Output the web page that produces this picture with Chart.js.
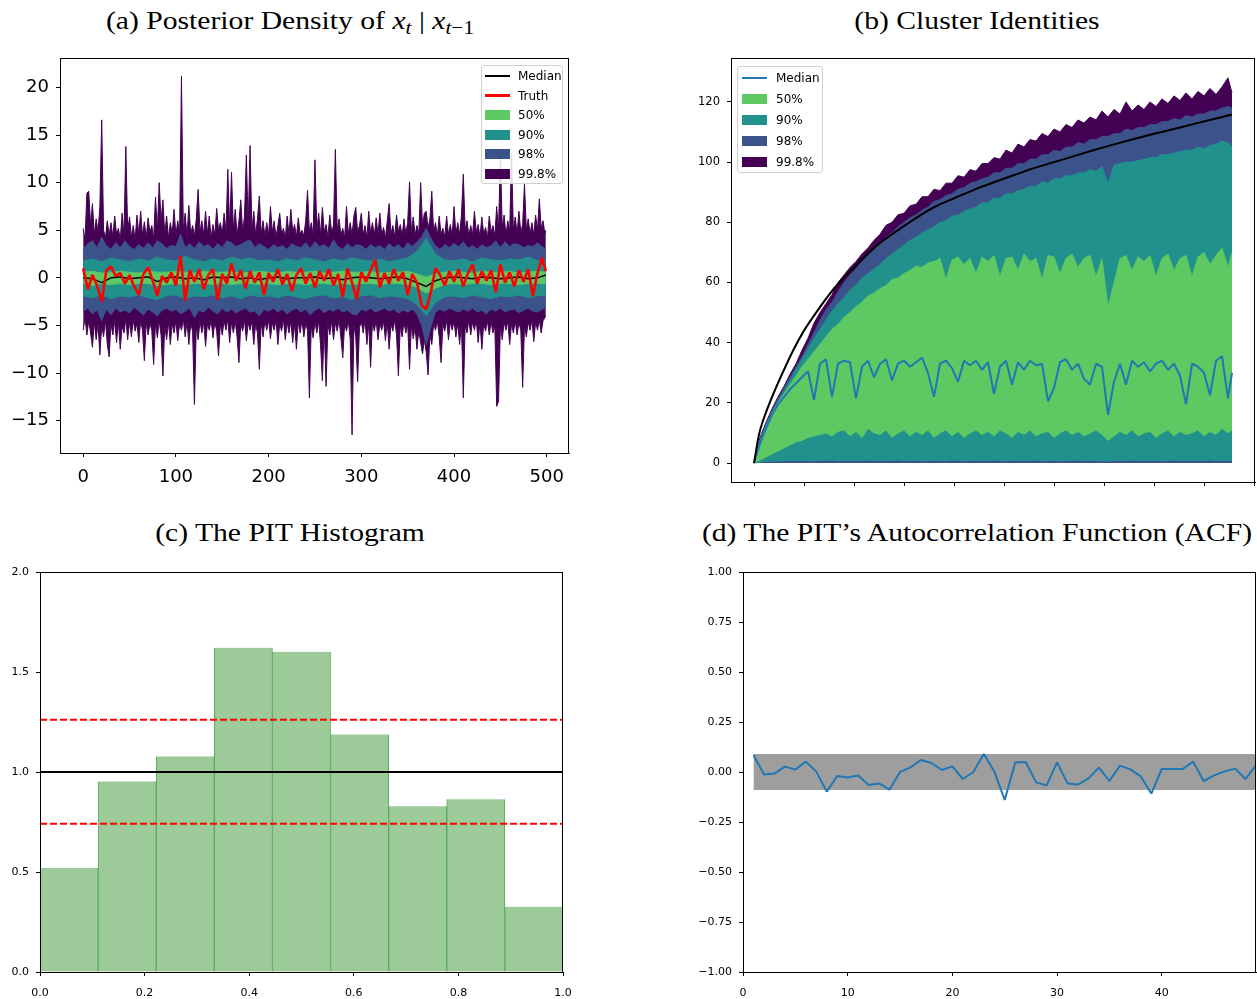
<!DOCTYPE html>
<html>
<head>
<meta charset="utf-8">
<script src="https://cdn.jsdelivr.net/npm/chart.js@4.4.1/dist/chart.umd.min.js"></script>
<style>
  body { margin: 0; background: #fff; width: 1257px; height: 999px; position: relative; overflow: hidden; font-family: 'DejaVu Sans', sans-serif; }
  canvas { position: absolute; }
  .title { position: absolute; font-family: 'Liberation Serif', serif; font-size: 26px; line-height: 26px; color: #000; white-space: nowrap; transform: translateX(-50%) scaleX(1.14); }
  .title sub { font-size: 0.72em; vertical-align: -0.28em; line-height: 0; }
  .legend { position: absolute; background: rgba(255,255,255,0.85); border: 1px solid #d0d0d0; border-radius: 3px; font-size: 12px; color: #000; box-sizing: border-box; }
  .legend .row { position: absolute; left: 0; height: 16px; line-height: 16px; width: 100%; }
  .legend .line { position: absolute; height: 2px; top: 7px; }
  .legend .patch { position: absolute; height: 10px; top: 3px; }
  .legend .txt { position: absolute; top: 0; }
</style>
</head>
<body>

<div class="title" style="left:290px; top:8px;">(a) Posterior Density of <i>x</i><sub><i>t</i></sub> | <i>x</i><sub><i>t</i>−1</sub></div>
<div class="title" style="left:977px; top:8px;">(b) Cluster Identities</div>
<div class="title" style="left:290px; top:520px;">(c) The PIT Histogram</div>
<div class="title" style="left:977px; top:520px;">(d) The PIT’s Autocorrelation Function (ACF)</div>

<canvas id="chartA" width="600" height="460" style="left:0; top:40px;"></canvas>
<canvas id="chartB" width="597" height="460" style="left:660px; top:40px;"></canvas>
<canvas id="chartC" width="600" height="444" style="left:0; top:555px;"></canvas>
<canvas id="chartD" width="567" height="444" style="left:690px; top:555px;"></canvas>

<div class="legend" id="legA" style="left:481px; top:65px; width:82px; height:119px;"></div>
<div class="legend" id="legB" style="left:737px; top:66px; width:86px; height:107px;"></div>

<script>
// ---- panel (a): posterior density ----
const A_T2 = grid(0, 498, 2, 499);   // 99.8% band
const A_T5 = grid(0, 495, 5, 499);   // 98% band and truth
const A_T10 = grid(0, 490, 10, 499); // 90% / 50% bands and median

const A_P998_UP = [
  5.2,4.0,8.9,9.1,5.5,7.8,4.5,6.2,4.8,7.5,16.6,5.0,4.2,6.0,4.5,5.8,4.3,6.5,4.6,5.2,4.0,6.8,4.5,13.8,5.0,
  6.4,4.3,5.5,4.0,6.6,4.6,7.0,4.4,5.9,4.2,6.3,4.8,5.5,4.1,8.5,5.0,10.0,6.0,8.2,4.5,6.5,4.2,5.8,4.6,7.2,
  4.5,6.0,4.8,21.2,5.0,6.8,4.3,7.6,4.6,5.5,4.4,6.2,9.3,4.8,6.0,4.5,7.0,4.6,6.5,4.2,5.6,4.5,7.3,5.0,5.8,
  4.6,6.8,4.8,11.4,5.2,11.1,5.0,7.2,4.5,6.0,8.2,4.8,6.5,12.9,5.5,13.9,5.0,7.0,4.5,6.2,8.6,4.6,6.0,4.4,5.8,
  4.5,7.5,4.8,6.0,4.3,5.5,6.8,4.6,5.2,4.2,6.5,4.5,7.2,4.8,5.6,4.3,6.3,4.6,5.0,4.4,6.0,9.2,4.8,5.8,4.5,
  12.4,5.0,6.8,4.5,7.4,4.8,5.6,4.3,6.6,4.8,5.5,13.5,5.0,6.2,4.5,5.2,4.2,7.5,4.6,5.8,4.5,6.5,7.4,4.8,5.5,
  6.8,4.5,5.5,4.2,7.0,4.7,5.8,4.4,6.3,4.6,6.8,4.5,5.3,4.2,6.0,7.8,4.6,5.5,4.3,6.6,4.8,5.6,4.4,6.2,4.6,
  5.8,10.1,4.8,6.4,4.5,5.5,4.6,10.0,5.5,6.8,7.0,5.2,6.2,9.1,4.8,5.8,4.4,6.5,4.6,5.2,4.3,6.5,4.5,5.6,4.4,
  7.5,4.6,5.8,4.5,6.6,10.9,5.0,6.0,4.4,5.5,4.5,7.0,4.8,5.6,4.3,6.4,4.6,5.3,4.2,6.5,4.8,5.5,4.4,7.5,5.0,
  13.0,5.2,6.6,4.5,6.0,4.8,13.1,5.0,6.4,4.6,7.0,4.8,5.6,9.9,5.0,6.2,4.6,5.8,4.5,6.6,5.0,8.3,5.2,6.0,4.6,
  5.0];
const A_P998_LO = [
  -5.5,-4.2,-6.0,-4.5,-5.8,-7.3,-4.6,-6.5,-4.8,-8.1,-5.0,-6.2,-4.4,-7.0,-8.3,-4.8,-6.0,-4.5,-6.8,-4.6,-7.5,-5.0,-5.8,-4.3,-6.5,
  -4.6,-6.2,-4.4,-5.6,-4.8,-6.8,-4.5,-5.5,-8.7,-4.6,-6.0,-4.8,-5.5,-9.1,-4.7,-6.3,-4.5,-6.0,-10.3,-5.0,-6.5,-4.6,-7.0,-4.8,-5.8,
  -4.5,-6.6,-4.8,-5.5,-4.3,-6.2,-4.6,-7.0,-4.8,-5.6,-13.3,-5.0,-6.5,-4.5,-5.8,-4.6,-7.2,-4.8,-5.5,-4.4,-6.3,-4.6,-5.6,-8.2,-4.8,
  -6.0,-4.5,-5.5,-4.3,-6.8,-4.6,-5.8,-4.5,-6.2,-8.9,-4.8,-5.6,-4.4,-6.6,-4.7,-5.5,-4.5,-7.0,-4.8,-5.8,-9.6,-4.6,-6.2,-4.5,-5.5,
  -4.4,-6.4,-4.7,-5.5,-4.4,-7.0,-4.8,-5.6,-4.3,-6.5,-4.6,-5.8,-4.5,-6.8,-4.8,-7.5,-4.6,-5.8,-4.4,-6.2,-4.8,-5.5,-12.6,-5.0,-6.3,
  -4.6,-5.8,-4.5,-7.0,-10.8,-5.0,-11.4,-4.8,-6.0,-4.5,-6.5,-4.7,-5.6,-4.4,-6.3,-8.4,-4.8,-5.6,-4.5,-6.4,-16.5,-5.0,-6.2,-10.9,-5.2,
  -4.6,-5.8,-4.4,-7.0,-4.8,-9.4,-4.6,-5.6,-4.4,-6.5,-4.8,-5.5,-4.5,-6.6,-4.6,-7.5,-4.8,-5.6,-4.4,-6.0,-10.3,-5.0,-6.2,-4.6,-5.8,
  -4.8,-9.6,-5.0,-6.4,-5.2,-7.5,-5.5,-6.8,-8.0,-6.5,-7.8,-10.2,-6.0,-7.0,-4.8,-5.5,-4.5,-6.2,-8.9,-4.8,-5.6,-4.4,-6.5,-4.6,-5.5,
  -4.5,-6.2,-4.7,-7.0,-4.8,-12.6,-5.0,-5.8,-4.4,-6.0,-4.6,-5.5,-4.4,-6.8,-4.7,-7.5,-4.8,-5.6,-4.5,-6.0,-4.6,-5.8,-5.0,-13.5,-13.0,
  -5.0,-6.5,-4.6,-5.5,-4.5,-7.0,-4.8,-5.8,-4.5,-6.0,-4.7,-5.5,-11.5,-5.0,-6.2,-4.6,-5.5,-4.4,-6.7,-4.6,-5.5,-4.4,-5.8,-4.5,-4.2,
  -4.0];
const A_P98_UP = [3.0,3.6,3.9,3.2,4.3,3.4,3.0,3.7,3.2,3.9,
  3.3,3.0,3.5,3.1,3.7,3.2,3.9,3.6,3.1,3.4,
  3.3,4.6,3.2,3.6,3.1,3.8,3.3,3.5,3.0,3.6,
  3.2,3.9,3.7,3.3,3.5,3.8,4.0,3.2,3.6,3.3,
  3.0,3.5,3.2,3.4,3.0,3.6,3.3,3.2,3.7,3.1,
  3.8,3.3,3.5,3.1,4.0,3.3,3.0,3.6,3.2,3.5,
  3.4,3.0,3.5,3.2,3.4,3.0,3.6,3.2,3.5,3.0,
  3.7,3.3,3.8,4.3,5.2,4.2,3.4,3.0,3.5,3.2,
  3.6,3.3,3.8,3.1,3.4,3.0,3.5,3.2,3.4,3.9,
  3.2,3.8,3.3,3.6,3.5,3.2,3.4,3.3,3.7,3.3,
  3.0];
const A_P98_LO = [-3.5,-3.2,-3.8,-3.4,-4.5,-3.3,-3.9,-3.2,-3.6,-3.4,
  -3.7,-3.1,-3.5,-3.9,-3.3,-3.6,-4.0,-3.4,-3.2,-3.5,
  -3.3,-3.8,-3.5,-3.2,-4.2,-3.4,-3.6,-3.1,-3.5,-3.8,
  -3.2,-3.6,-3.3,-3.7,-3.4,-3.2,-3.6,-3.5,-4.0,-3.3,
  -3.5,-3.2,-3.6,-3.3,-3.8,-3.4,-3.2,-3.6,-3.3,-3.9,
  -3.4,-3.2,-3.7,-3.3,-3.5,-3.2,-3.6,-3.4,-3.8,-3.9,
  -3.3,-3.5,-3.2,-3.6,-3.4,-3.2,-3.5,-3.3,-3.7,-3.4,
  -3.6,-3.3,-3.8,-5.0,-7.0,-5.2,-3.6,-3.3,-3.5,-3.2,
  -3.4,-3.6,-3.3,-3.5,-3.2,-3.6,-3.4,-3.8,-3.3,-3.5,
  -3.2,-3.6,-3.4,-3.3,-3.7,-3.4,-3.2,-3.5,-3.6,-3.3,
  -3.2];
const A_P90_UP = [1.8,2.0,1.7,2.1,1.9,1.7,2.0,1.8,2.2,1.9,
  1.8,2.3,1.9,1.7,2.0,1.8,2.2,1.9,2.1,1.8,
  1.9,1.7,2.0,1.8,2.1,1.9,1.7,2.0,1.8,2.1,
  1.9,1.8,2.0,1.7,1.9,2.1,2.8,4.2,2.5,1.9,
  1.8,2.0,1.7,2.1,1.9,1.8,2.0,1.9,2.2,1.8,
  1.8];
const A_P90_LO = [-1.9,-2.1,-1.8,-2.2,-1.9,-2.0,-1.8,-2.1,-2.3,-1.9,
  -1.8,-2.2,-1.9,-2.0,-1.8,-2.1,-1.9,-2.2,-1.8,-2.0,
  -1.9,-2.1,-1.8,-2.0,-2.2,-1.9,-1.8,-2.1,-2.0,-2.3,
  -1.9,-1.8,-2.1,-1.9,-2.0,-2.2,-2.8,-4.0,-2.6,-2.0,
  -1.9,-2.1,-1.8,-2.0,-2.2,-1.9,-2.0,-1.8,-2.1,-1.9,
  -1.8];
const A_P50_UP = [0.6,0.7,0.5,0.6,0.7,0.6,0.5,0.7,0.6,0.6,
  0.7,0.6,0.5,0.7,0.6,0.6,0.7,0.5,0.6,0.7,
  0.6,0.5,0.7,0.6,0.6,0.7,0.5,0.6,0.7,0.6,
  0.6,0.7,0.5,0.6,0.6,0.7,0.4,0.1,0.4,0.6,
  0.7,0.6,0.5,0.7,0.6,0.6,0.7,0.5,0.6,0.7,
  0.6];
const A_P50_LO = [-0.6,-0.8,-0.6,-0.7,-0.6,-0.7,-0.6,-0.6,-0.8,-0.7,
  -0.6,-0.7,-0.6,-0.6,-0.7,-0.6,-0.7,-0.6,-0.6,-0.7,
  -0.6,-0.7,-0.6,-0.6,-0.7,-0.6,-0.6,-0.7,-0.6,-0.7,
  -0.6,-0.6,-0.7,-0.6,-0.6,-0.7,-1.0,-1.6,-1.1,-0.7,
  -0.6,-0.7,-0.6,-0.6,-0.7,-0.6,-0.6,-0.7,-0.6,-0.6,
  -0.6];
const A_MEDIAN = [0.0,-0.1,-0.5,0.0,0.1,-0.1,0.0,0.1,-0.4,0.0,
  0.1,-0.1,0.0,-0.2,0.1,0.0,0.1,-0.1,0.0,-0.2,
  0.0,0.1,-0.1,0.0,0.0,0.1,-0.1,0.0,-0.2,0.0,
  0.1,0.0,-0.1,0.0,0.1,-0.1,-0.5,-0.9,-0.3,0.0,
  0.1,0.0,-0.1,0.1,0.0,-0.1,0.0,0.1,-0.1,0.0,
  0.3];
const A_TRUTH = [1.0,-1.2,0.3,-0.8,-2.5,0.8,1.2,0.2,0.5,-0.6,
  0.3,-0.9,-1.8,0.4,1.1,-0.3,-1.9,0.2,-0.5,0.6,
  -0.8,2.3,-2.4,0.8,-0.4,0.9,-1.2,0.3,0.9,-2.3,
  0.4,-0.6,1.5,-0.3,0.8,-1.1,0.7,-0.5,0.6,-1.8,
  0.5,-0.4,0.9,-0.7,0.4,-1.4,0.3,1.0,-0.6,0.5,
  -1.0,0.7,-0.3,0.9,-0.8,0.4,-2.0,1.0,-0.5,-2.2,
  0.6,-0.4,0.8,1.9,-1.0,0.5,-0.6,0.9,-0.3,0.6,
  -1.8,0.4,-0.5,-2.9,-3.3,-1.5,1.0,0.3,-0.8,0.7,
  -0.4,0.9,-0.9,0.5,1.4,-0.6,0.7,-0.3,0.8,-1.5,
  1.4,-0.5,0.6,-0.9,0.8,-0.4,0.9,-1.9,0.5,2.1,
  0.7];

// ---- panel (b): cluster identities, sampled every 6 steps ----
const B_T = grid(0, 474, 6, 478);
const B_P998_UP = [0,8.5,13.5,18,22,25.5,29.5,33,37.5,41.5,
  46.5,50,53,56,60,62.5,65,67,69.5,71.5,
  74,76,79,80,82.5,83,85.5,86,88.5,88.5,
  91,90.5,93,93,95.5,95,97.5,97,99.5,99.5,
  101.5,101,104,103,106,105,107.5,107,109.5,108.5,
  111,110,112.5,111.5,114,113,115,114,117,115,
  117.5,116,120,117,119,117.5,120,118.5,121,119.5,
  122,120.5,123,121,123.5,122,124.5,122.5,125,128,
  123];
const B_P98_UP = [0,8,13,17.5,21.5,25,28.5,32,35.5,39.5,
  43.5,47.5,51,53.5,57,60,62.5,64.5,67,69,
  71,73,75,76.5,78.5,80,81.5,82.5,84,85,
  87,87.5,89,89.5,91,91.5,93,93.5,94.5,95,
  96.5,96.5,98,98,99.5,99.5,101,101,102.5,102.5,
  104,103.5,105,105,106.5,106,107.5,107.5,108.5,108.5,
  109.5,109.5,111,110.5,111.5,111.5,112.5,112.5,113.5,113.5,
  114.5,114,115.5,115,116,116,117,117,118,118.5,
  118];
const B_P90_UP = [0,7.5,12.5,17,20.5,24,27.5,31,34.5,38,
  41.5,44.5,47.5,50.5,53,55,57.5,59,61.5,63,
  64.5,66,68,69.5,71,72.5,74,75,76.5,77.5,
  78.5,80,80.5,82,82.5,83.5,84.5,85,86.5,86.5,
  88,88,89.5,89.5,90.5,91,92,92,93.5,93,
  94.5,94.5,95.5,95.5,96.5,96.5,97.5,97,98.5,93,
  99,99.5,100,100,100.5,101,101.5,101.5,102.5,102.5,
  103,103.5,104,104,105,104.5,105.5,106,107,106.5,
  105];
const B_P50_UP = [0,7,12,16.5,20,23,26,29,32,34.5,
  37,39.5,42,44.5,46,48.5,50,52,53.5,55.5,
  56.5,58,59,61,61.5,63,64,65.5,65,66.5,
  67,68,61,67.5,68.5,66,68,63,68.5,67,
  69,62,68,68.5,64,69.5,67,68,61,69,
  68.5,63,68,69.5,65,68,69,62,68,52,
  60,68,69,64,68.5,67,69,62,68,69.5,
  64,68,69,62,68.5,70,66,69,71.5,65,
  70];
const B_P50_LO = [0,1,2,3,4,5,6,7,7.5,8.5,
  9,9.5,10,9,10.5,11,9,10.5,8.5,11.5,
  10,9.5,11,8.5,10,11,9,10.5,9.5,11,
  8.5,10,11,9,10.5,8.5,10,11,9.5,10.5,
  9,11,10,8.5,10.5,9.5,11,9,10,10.5,
  8.5,10,11,9.5,10.5,9,10,11,9.5,7.5,
  9,10.5,9.5,11,9,10,10.5,8.5,10,11,
  9,10.5,9.5,10,11,9,10.5,9.5,11.5,10,
  11];
const B_P90_LO = [0,0.3,0.5,0.6,0.7,0.7,0.8,0.8,0.8,0.8,
  0.7,0.9,0.8,1.0,0.7,0.8,0.9,0.7,0.8,1.0,
  0.8,0.7,0.9,0.8,1.0,0.7,0.8,0.9,0.7,0.8,
  0.9,0.8,0.7,1.0,0.8,0.7,0.9,0.8,0.8,0.7,
  1.0,0.8,0.7,0.9,0.8,0.7,0.8,1.0,0.7,0.8,
  0.9,0.7,0.8,0.8,1.0,0.7,0.9,0.8,0.7,0.6,
  0.8,0.9,0.7,1.0,0.8,0.7,0.9,0.8,0.7,0.8,
  1.0,0.7,0.8,0.9,0.7,0.8,1.0,0.7,0.9,0.8,
  0.8];
const B_MEDIAN = [0,6.5,11.5,16,19.5,22,24.5,26.5,28.5,30.5,
  21,33,34.5,22,33,34,33.5,21.5,32,34,
  28.5,33,34.5,27.5,33,34,32,33.5,35,30,
  22,33,34,31.5,27,34,32.5,34,31,33.5,
  23,32,34,26,33.5,31,34,32.5,33,20.5,
  25,33.5,34.5,31,33,28,26,33,32,16,
  27,33,26,34,32,33.5,30.5,33,34,31,
  33,29,19.5,33,32,30,22.5,34,35.5,21.5,
  30];
// expected number of clusters (smooth black curve)
const B_EXP_T = [0,5,10,20,30,40,50,60,80,100,120,140,160,180,200,220,240,260,280,300,320,340,360,380,400,420,440,460,478];
const B_EXP_V = [0,9.5,15,23.5,31,38,44,49,58,65,71.5,76.5,81,85,88,90.8,93.3,95.7,98,100,102,104,105.9,107.7,109.4,111,112.7,114.3,115.8];

// ---- panel (c): PIT histogram ----
const PIT_BIN_MID = [0.0556,0.1667,0.2778,0.3889,0.5,0.6111,0.7222,0.8333,0.9444];
const PIT_DENSITY = [0.52,0.953,1.078,1.621,1.601,1.188,0.829,0.864,0.326];
const PIT_UNIFORM = [1.0, 1.0];
const PIT_CI_HI = [1.261, 1.261];
const PIT_CI_LO = [0.741, 0.741];
const PIT_SPAN = [0, 1];

// ---- panel (d): ACF of the PIT ----
const ACF_LAGS = grid(1, 48, 1, 49);
const ACF_VALUES = [0.085,-0.012,-0.008,0.027,0.012,0.052,0.002,-0.098,-0.02,-0.028,
  -0.018,-0.065,-0.057,-0.088,0.0,0.023,0.06,0.045,0.01,0.028,
  -0.035,0.0,0.09,0.003,-0.14,0.048,0.05,-0.052,-0.067,0.048,
  -0.057,-0.063,-0.032,0.022,-0.045,0.032,0.013,-0.022,-0.108,0.015,
  0.015,0.015,0.052,-0.045,-0.017,0.003,0.017,-0.035,0.035];
const ACF_BAND_X = [1, 49];
const ACF_BAND_HI = [0.09, 0.09];
const ACF_BAND_LO = [-0.09, -0.09];

// colores viridis
const C998 = '#440154', C98 = '#3b528b', C90 = '#21918c', C50 = '#5ec962';

function grid(a, b, step, last) {
  const out = [];
  for (let t = a; t <= b; t += step) out.push(t);
  out.push(last);
  return out;
}
const xy = (xs, ys) => xs.map((x, i) => ({ x: x, y: ys[i] }));
const minus = v => (v < 0 ? '\u2212' : '') + Math.abs(v);

Chart.defaults.font.family = "'DejaVu Sans', sans-serif";
Chart.defaults.color = '#000';
Chart.defaults.animation = false;
Chart.defaults.plugins.legend.display = false;
Chart.defaults.plugins.tooltip.enabled = false;
Chart.defaults.elements.point.radius = 0;
Chart.defaults.elements.line.tension = 0;

// caja alrededor del area del grafico
const boxFrame = {
  id: 'boxFrame',
  afterDraw(chart) {
    const a = chart.chartArea, ctx = chart.ctx;
    ctx.save();
    ctx.strokeStyle = '#000';
    ctx.lineWidth = 1;
    ctx.strokeRect(Math.round(a.left) + 0.5, Math.round(a.top) + 0.5, Math.round(a.right - a.left) - 1, Math.round(a.bottom - a.top));
    ctx.restore();
  }
};

function scale(o) {
  const keep = v => {
    const k = v / o.step;
    return Math.abs(k - Math.round(k)) < 1e-6 && v >= o.lo - 1e-9 && v <= o.hi + 1e-9;
  };
  return {
    type: 'linear', min: o.min, max: o.max, offset: false,
    ticks: { stepSize: o.step, includeBounds: false, autoSkip: false, maxRotation: 0, padding: o.pad, font: { size: o.size }, color: '#000', callback: o.fmt },
    afterBuildTicks: s => { s.ticks = s.ticks.filter(t => keep(t.value)); },
    afterFit: s => { if (o.w) s.width = o.w; if (o.h) s.height = o.h; },
    grid: { drawOnChartArea: false, drawTicks: true, tickLength: 4, tickColor: '#000', offset: false },
    border: { color: '#000' }
  };
}

function line(xs, ys, color, width, order, extra) {
  return Object.assign({ data: xy(xs, ys), borderColor: color, backgroundColor: color, borderWidth: width, order: order, fill: false, borderJoinStyle: 'bevel' }, extra || {});
}

// (a)
new Chart(document.getElementById('chartA'), {
  type: 'line',
  data: { datasets: [
    line(A_T5, A_TRUTH, '#ff0000', 2.6, 1),
    line(A_T10, A_MEDIAN, '#000000', 1.5, 2),
    line(A_T10, A_P50_LO, C50, 0.8, 3),
    line(A_T10, A_P50_UP, C50, 0.8, 3, { fill: 2 }),
    line(A_T10, A_P90_LO, C90, 0.8, 4),
    line(A_T10, A_P90_UP, C90, 0.8, 4, { fill: 4 }),
    line(A_T5, A_P98_LO, C98, 0.8, 5),
    line(A_T5, A_P98_UP, C98, 0.8, 5, { fill: 6 }),
    line(A_T2, A_P998_LO, C998, 1, 6),
    line(A_T2, A_P998_UP, C998, 1, 6, { fill: 8 })
  ] },
  options: {
    responsive: false,
    layout: { padding: { top: 18, right: 31, left: 0, bottom: 0 } },
    scales: {
      x: scale({ min: -25, max: 524, step: 100, lo: 0, hi: 500, size: 18, pad: 10, h: 47, fmt: v => minus(v) }),
      y: scale({ min: -18.4, max: 23.1, step: 5, lo: -15, hi: 20, size: 18, pad: 7, w: 60, fmt: v => minus(v) })
    }
  },
  plugins: [boxFrame]
});

// (b)
new Chart(document.getElementById('chartB'), {
  type: 'line',
  data: { datasets: [
    line(B_EXP_T, B_EXP_V, '#000000', 2, 1, { cubicInterpolationMode: 'monotone' }),
    line(B_T, B_MEDIAN, '#1f77b4', 2, 2),
    line(B_T, B_P50_LO, C50, 0.8, 3),
    line(B_T, B_P50_UP, C50, 0.8, 3, { fill: 2 }),
    line(B_T, B_P90_LO, C90, 0.8, 4),
    line(B_T, B_P90_UP, C90, 0.8, 4, { fill: 4 }),
    line(B_T, B_P98_UP, C98, 0.8, 5, { fill: 'origin' }),
    line(B_T, B_P998_UP, C998, 1, 6, { fill: 'origin' })
  ] },
  options: {
    responsive: false,
    layout: { padding: { top: 18, right: 2, left: 0, bottom: 0 } },
    scales: {
      x: scale({ min: -23, max: 501, step: 50, lo: 0, hi: 500, size: 11.5, pad: 0, h: 18, fmt: () => '' }),
      y: scale({ min: -6.3, max: 134.6, step: 20, lo: 0, hi: 120, size: 11.5, pad: 7, w: 71, fmt: v => minus(v) })
    }
  },
  plugins: [boxFrame]
});

// (c)
new Chart(document.getElementById('chartC'), {
  type: 'bar',
  data: { datasets: [
    Object.assign(line(PIT_SPAN, PIT_UNIFORM, '#000000', 2, 1), { type: 'line' }),
    Object.assign(line(PIT_SPAN, PIT_CI_HI, '#ff0000', 2, 2, { borderDash: [7, 3] }), { type: 'line' }),
    Object.assign(line(PIT_SPAN, PIT_CI_LO, '#ff0000', 2, 2, { borderDash: [7, 3] }), { type: 'line' }),
    {
      type: 'bar', data: xy(PIT_BIN_MID, PIT_DENSITY), order: 10,
      backgroundColor: '#9ccb99', borderColor: '#5cab5c',
      borderWidth: { left: 1, right: 1, top: 0, bottom: 0 }, borderSkipped: false,
      barPercentage: 1, categoryPercentage: 1
    }
  ] },
  options: {
    responsive: false,
    layout: { padding: { top: 17, right: 37, left: 0, bottom: 0 } },
    scales: {
      x: scale({ min: 0, max: 1, step: 0.2, lo: 0, hi: 1, size: 11, pad: 11, h: 27, fmt: v => v.toFixed(1) }),
      y: scale({ min: 0, max: 2, step: 0.5, lo: 0, hi: 2, size: 11, pad: 7, w: 40, fmt: v => v.toFixed(1) })
    }
  },
  plugins: [boxFrame]
});

// (d)
new Chart(document.getElementById('chartD'), {
  type: 'line',
  data: { datasets: [
    line(ACF_LAGS, ACF_VALUES, '#1f77b4', 2, 1),
    line(ACF_BAND_X, ACF_BAND_LO, '#9e9e9e', 0, 2),
    line(ACF_BAND_X, ACF_BAND_HI, '#9e9e9e', 0, 2, { fill: 1 })
  ] },
  options: {
    responsive: false,
    layout: { padding: { top: 17, right: 1, left: 0, bottom: 0 } },
    scales: {
      x: scale({ min: 0, max: 49, step: 10, lo: 0, hi: 40, size: 11, pad: 11, h: 27, fmt: v => String(v) }),
      y: scale({ min: -1, max: 1, step: 0.25, lo: -1, hi: 1, size: 11, pad: 7, w: 53, fmt: v => (v < 0 ? '\u2212' : '') + Math.abs(v).toFixed(2) })
    }
  },
  plugins: [boxFrame]
});

// leyendas
function buildLegend(id, rows, spacing, firstTop, handleLeft, handleW, textLeft) {
  const box = document.getElementById(id);
  rows.forEach((r, i) => {
    const row = document.createElement('div');
    row.className = 'row';
    row.style.top = (firstTop + i * spacing - 8) + 'px';
    const h = document.createElement('div');
    h.className = r.kind;
    h.style.left = handleLeft + 'px';
    h.style.width = handleW + 'px';
    h.style.background = r.color;
    if (r.kind === 'line') { h.style.height = r.lw + 'px'; h.style.top = (8 - r.lw / 2) + 'px'; }
    const t = document.createElement('div');
    t.className = 'txt';
    t.style.left = textLeft + 'px';
    t.textContent = r.label;
    row.appendChild(h);
    row.appendChild(t);
    box.appendChild(row);
  });
}
buildLegend('legA', [
  { kind: 'line', color: '#000', lw: 2, label: 'Median' },
  { kind: 'line', color: '#ff0000', lw: 3, label: 'Truth' },
  { kind: 'patch', color: C50, label: '50%' },
  { kind: 'patch', color: C90, label: '90%' },
  { kind: 'patch', color: C98, label: '98%' },
  { kind: 'patch', color: C998, label: '99.8%' }
], 19.5, 10, 3, 25, 36);
buildLegend('legB', [
  { kind: 'line', color: '#1f77b4', lw: 2, label: 'Median' },
  { kind: 'patch', color: C50, label: '50%' },
  { kind: 'patch', color: C90, label: '90%' },
  { kind: 'patch', color: C98, label: '98%' },
  { kind: 'patch', color: C998, label: '99.8%' }
], 20.9, 11, 4, 25, 38);
</script>
</body>
</html>
